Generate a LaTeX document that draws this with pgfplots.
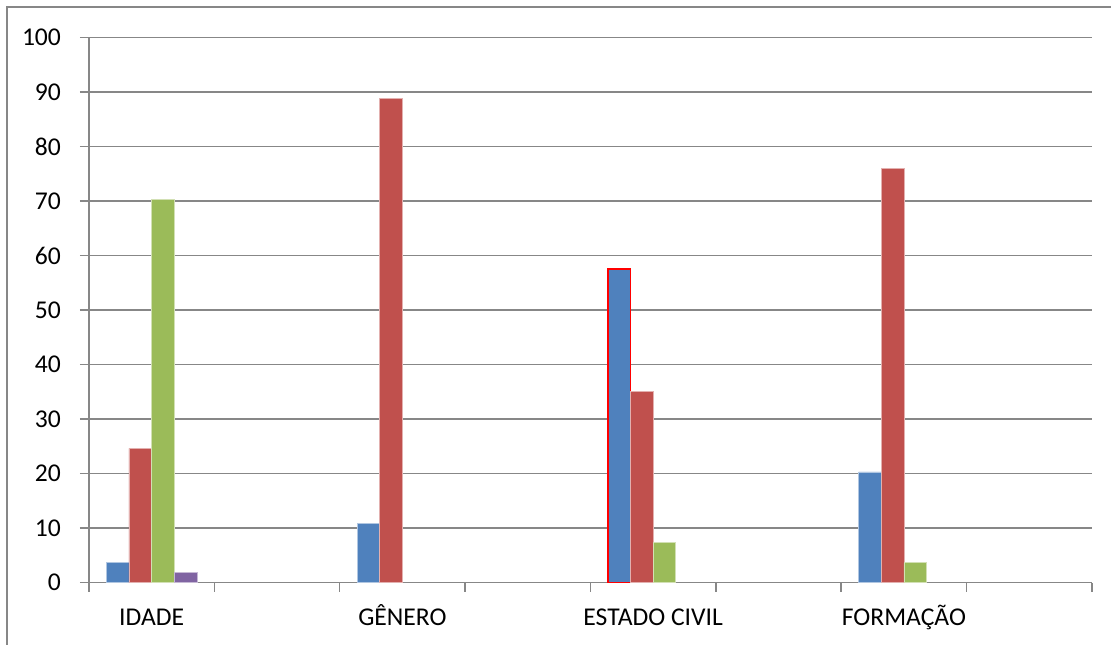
\documentclass[border=0pt]{standalone}
\usepackage{pgfplots}
\pgfplotsset{compat=1.18}
\usepackage{fontspec}
\setmainfont{Carlito}
\definecolor{cblue}{HTML}{4F81BD}
\definecolor{cred}{HTML}{C0504D}
\definecolor{cgreen}{HTML}{9BBB59}
\definecolor{cpurple}{HTML}{8064A2}
\definecolor{gridgray}{HTML}{878787}
\begin{document}
\begin{tikzpicture}
\begin{axis}[
  at={(0pt,0pt)}, anchor=south west,
  scale only axis, width=501.5pt, height=272.4pt,
  xmin=-0.5, xmax=7.5, ymin=0, ymax=100,
  ytick={0,10,...,100},
  ymajorgrids, major grid style={color=gridgray, line width=0.75pt},
  axis x line*=bottom, axis y line*=left,
  axis line style={gridgray, line width=0.75pt, -},
  xtick={-0.5,0.5,...,7.5},
  x tick label as interval,
  xticklabels={IDADE,,GÊNERO,,ESTADO CIVIL,,FORMAÇÃO,},
  tick align=outside,
  major tick length=4.5pt,
  ytick style={draw=gridgray, line width=0.75pt},
  xtick style={draw=gridgray, line width=0.75pt},
  tick label style={font=\fontsize{12.8}{15}\selectfont, text=black},
  /pgf/number format/assume math mode=true,
  xticklabel style={anchor=base, yshift=-17pt},
  yticklabel style={anchor=east, xshift=-6pt},
  ybar, bar width=0.181,
]
\addplot[fill=cblue, draw=cblue!45!white, line width=0.4pt, bar shift=-0.2715] coordinates {(0,3.6) (2,10.9) (6,20.3)};
\addplot[fill=cblue, draw=red, line width=0.9pt, bar shift=-0.2715] coordinates {(4,57.5)};
\addplot[fill=cred, draw=cred!45!white, line width=0.4pt, bar shift=-0.0905] coordinates {(0,24.6) (2,88.9) (4,35.0) (6,76.0)};
\addplot[fill=cgreen, draw=cgreen!45!white, line width=0.4pt, bar shift=0.0905] coordinates {(0,70.3) (4,7.3) (6,3.6)};
\addplot[fill=cpurple, draw=cpurple!45!white, line width=0.4pt, bar shift=0.2715] coordinates {(0,1.8)};
\end{axis}
\draw[gridgray, line width=0.6pt] (-41pt,-40pt) |- (520pt,287.75pt);
\pgfresetboundingbox
\useasboundingbox (-44.5pt,-30.75pt) rectangle (511pt,291.25pt);
\end{tikzpicture}
\end{document}
